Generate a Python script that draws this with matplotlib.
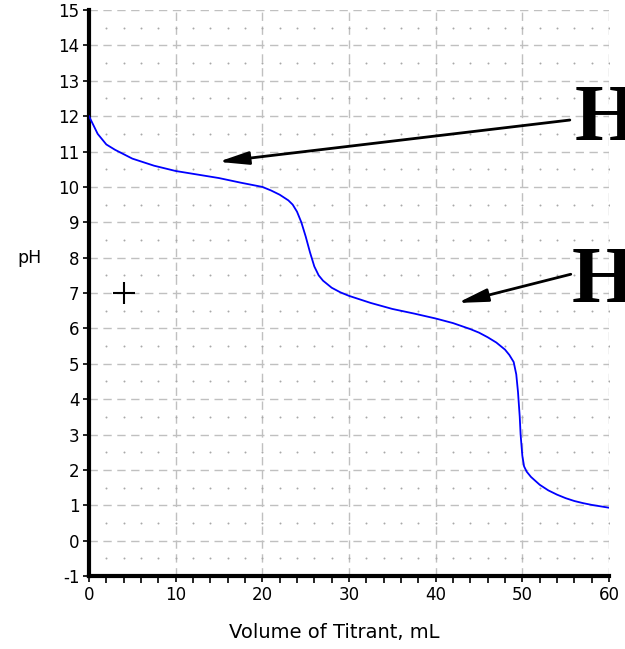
import numpy as np
import matplotlib.pyplot as plt
from matplotlib.ticker import MultipleLocator

# titration curve
volume = [0, 0.5, 1, 2, 3, 5, 7.5, 10, 12.5, 15, 17.5, 20, 21, 22, 23, 23.5, 24,
          24.5, 25, 25.5, 26, 26.5, 27, 28, 29, 30, 32.5, 35, 37.5, 40, 42, 44,
          45, 46, 47, 48, 48.5, 49, 49.3, 49.5, 49.7, 49.8, 50, 50.2, 50.5, 51,
          52, 53, 54, 55, 56, 57, 58, 59, 60]
ph = [12.0, 11.75, 11.5, 11.2, 11.05, 10.8, 10.6, 10.45, 10.35, 10.25, 10.12, 10.0,
      9.9, 9.78, 9.62, 9.5, 9.3, 9.0, 8.6, 8.15, 7.75, 7.5, 7.35, 7.15, 7.02, 6.92,
      6.72, 6.55, 6.42, 6.28, 6.15, 5.98, 5.88, 5.75, 5.6, 5.4, 5.25, 5.05, 4.7,
      4.2, 3.5, 3.0, 2.4, 2.1, 1.95, 1.8, 1.58, 1.42, 1.3, 1.2, 1.12, 1.06, 1.01,
      0.97, 0.93]

marker_point = (4, 7)

plt.rcParams['font.family'] = ['DejaVu Sans']
plt.rcParams['axes.unicode_minus'] = False

fig = plt.figure(figsize=(6.25, 6.49), dpi=100)
ax = fig.add_axes([0.1424, 0.1125, 0.832, 0.872])

ax.set_xlim(0, 60)
ax.set_ylim(-1, 15)

# grid: dashed majors, dots at minor intersections
for yv in range(-1, 16):
    ax.axhline(yv, color='#c0c0c0', lw=1, ls=(0, (6, 4)), zorder=0)
for xv in range(10, 61, 10):
    ax.axvline(xv, color='#c0c0c0', lw=1, ls=(0, (6, 4)), zorder=0)
gx, gy = np.meshgrid(np.arange(2, 61, 2), np.arange(-0.5, 15, 1.0))
ax.scatter(gx.ravel(), gy.ravel(), s=2, color='#a8a8a8', lw=0, zorder=0)

ax.plot(volume, ph, color='#0000ff', lw=1.3, zorder=3)
ax.plot(*marker_point, marker='+', color='black', ms=16, mew=1.5, zorder=3)

for side in ('top', 'right'):
    ax.spines[side].set_visible(False)
for side in ('left', 'bottom'):
    ax.spines[side].set_linewidth(3)
    ax.spines[side].set_color('black')

ax.xaxis.set_major_locator(MultipleLocator(10))
ax.xaxis.set_minor_locator(MultipleLocator(2))
ax.yaxis.set_major_locator(MultipleLocator(1))
ax.tick_params(axis='both', which='major', labelsize=12, length=4, width=1.2,
               direction='out', pad=3)
ax.tick_params(axis='x', which='minor', length=5, width=1.2, direction='out')

ax.set_xlabel('Volume of Titrant, mL', fontsize=14, va='center')
ax.xaxis.set_label_coords(0.471, -0.1)
ax.set_ylabel('pH', fontsize=12.5, rotation=0, va='center', ha='center')
ax.yaxis.set_label_coords(-0.115, 9 / 16)

# big letters with arrows, partly cut by the right edge
fig.text(0.919, 0.784, 'H', fontsize=58, fontweight='bold', family='Liberation Serif',
         ha='left', va='baseline')
fig.text(0.914, 0.534, 'H', fontsize=58, fontweight='bold', family='Liberation Serif',
         ha='left', va='baseline')
arrow_style = dict(arrowstyle='-|>,head_length=1.3,head_width=0.28',
                   color='black', lw=2, mutation_scale=14)
ax.annotate('', xy=(14.6, 10.7), xytext=(55.8, 11.9), arrowprops=arrow_style)
ax.annotate('', xy=(42.2, 6.7), xytext=(55.9, 7.55), arrowprops=arrow_style)

fig.savefig('out.png', dpi=100)
